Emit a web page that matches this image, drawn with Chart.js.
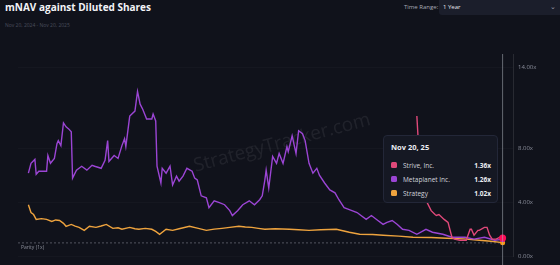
<!DOCTYPE html>
<html>
<head>
<meta charset="utf-8">
<script src="https://cdn.jsdelivr.net/npm/chart.js@4.4.1/dist/chart.umd.min.js"></script>
<style>
  html, body { margin: 0; padding: 0; background: #10121b; width: 560px; height: 265px; overflow: hidden; font-family: "Open Sans", "Noto Sans", sans-serif; }
  #title { position: absolute; left: 5px; top: 0px; font-size: 10px; font-weight: 700; color: #f2f3f7; }
  #sub { position: absolute; left: 5px; top: 22px; font-size: 5px; color: #4a4e5c; }
  #rangeLbl { position: absolute; left: 404px; top: 3px; font-size: 6px; color: #a8abb6; }
  #range { position: absolute; left: 439px; top: 0px; width: 121px; height: 15px; background: #1b1e2b; border-radius: 0 0 0 3px; box-sizing: border-box; padding-left: 4px; font-size: 6px; line-height: 15px; color: #e4e5ea; }
  #range span { position: absolute; right: 4px; top: -1px; color: #9a9daa; font-size: 7px; }
  #wrap { position: absolute; left: 0; top: 40px; width: 560px; height: 225px; }
  #tip { position: absolute; left: 383px; top: 95px; width: 115px; height: 68px; box-sizing: border-box; background: #151823; border: 1px solid #232738; border-radius: 4px; padding: 6px 6px 0 7px; opacity: 0; }
  #tip .tt { font-weight: 700; font-size: 7.5px; color: #eceef3; height: 11px; line-height: 10px; margin-bottom: 5px; }
  #tip .row { display: flex; align-items: center; height: 14px; font-size: 6.5px; color: #d2d4dc; }
  #tip .row i { width: 6px; height: 6px; border-radius: 1.5px; margin-right: 6px; }
  #tip .row b { margin-left: auto; margin-right: 0px; font-weight: 700; color: #eceef3; }
</style>
</head>
<body>
<div id="title">mNAV against Diluted Shares</div>
<div id="sub">Nov 20, 2024 - Nov 20, 2025</div>
<div id="rangeLbl">Time Range:</div>
<div id="range">1 Year <span>&#8964;</span></div>
<div id="wrap"><canvas id="mChart" width="560" height="225"></canvas><div id="tip"></div></div>
<script>
// days since Nov 20, 2024 and mNAV values
const strategyDays = [0,2,4,6,10,14,18,21,24,27,29,33,36,39,43,47,52,56,60,65,69,72,78,82,85,90,95,98,101,106,111,116,124,130,137,143,149,155,162,167,172,177,182,190,201,208,216,225,237,242,247,255,265,273,285,296,310,322,335,347,356,365];
const strategyVals = [3.83,3.25,3.10,2.74,2.80,2.74,2.59,2.70,2.66,2.45,2.23,2.37,2.25,2.15,1.93,2.23,2.15,2.25,2.37,2.08,2.12,2.01,2.15,2.05,2.01,2.08,2.01,1.85,1.64,2.01,1.93,2.05,2.23,2.10,1.93,2.02,2.08,2.15,2.23,2.18,2.15,2.08,2.01,2.05,2.01,1.98,1.93,1.98,2.01,1.90,1.79,1.64,1.62,1.57,1.50,1.42,1.40,1.35,1.30,1.20,1.12,1.02];

const metaDays = [0,2,5,6,8,14,15,17,20,22,23,25,27,29,31,33,34,37,41,45,49,51,56,59,61,62,66,69,72,74,75,78,82,84,86,88,91,95,96,98,99,102,103,106,109,111,114,116,119,122,126,128,130,133,137,139,143,147,151,155,157,161,165,170,174,178,180,182,183,185,188,191,193,196,199,200,203,206,208,211,213,216,219,222,224,228,232,236,239,243,247,253,256,260,264,269,273,276,280,284,288,293,299,306,311,319,326,336,343,351,359,365];
const metaVals = [6.17,6.90,7.19,6.09,6.31,6.31,7.48,6.90,7.26,8.36,8.58,8.21,9.89,9.60,9.45,9.23,5.80,6.39,6.68,6.39,6.75,6.68,6.53,7.12,8.58,7.04,7.48,7.26,8.21,8.72,8.14,10.40,10.77,12.23,11.28,10.91,10.18,10.18,10.55,10.04,6.68,5.44,6.53,6.17,6.68,5.29,5.95,5.58,5.95,6.53,6.31,5.80,5.66,4.49,4.34,3.61,4.12,3.98,3.83,3.39,3.03,3.39,3.83,4.12,3.83,4.20,4.49,5.66,6.39,5.07,7.41,6.90,7.63,6.90,8.14,7.77,8.94,7.63,9.31,9.09,8.58,6.90,6.17,6.53,6.02,5.44,4.93,4.71,4.20,3.61,3.47,3.25,3.03,2.74,3.03,2.66,2.37,2.52,2.66,2.37,2.01,1.93,1.64,2.01,1.79,1.64,1.42,1.42,1.28,1.42,1.20,1.26];

const striveDays = [299,300,301,303,306,307,310,313,314,316,320,323,324,326,328,332,337,340,341,343,346,347,351,353,355,357,360,363,365];
const striveVals = [10.40,8.70,7.30,5.80,4.70,3.98,3.39,3.10,3.03,3.10,2.74,2.52,2.15,1.42,1.28,1.20,1.20,2.01,2.01,1.57,1.93,1.93,2.15,2.15,1.57,1.28,1.28,1.42,1.36];

const yTicks = [0, 4, 8, 14];
const months = ['Jan','Feb','Mar','Apr','May','Jun','Jul','Aug','Sep','Oct','Nov','Dec'];

function pts(days, vals) {
  return days.map((d, i) => ({ x: d, y: vals[i] }));
}
function dayLabel(d) {
  const dt = new Date(2024, 10, 20 + d);
  return months[dt.getMonth()] + ' ' + dt.getDate() + ', ' + String(dt.getFullYear()).slice(2);
}

function externalTip(context) {
  const tip = document.getElementById('tip');
  const m = context.tooltip;
  if (m.opacity === 0) { tip.style.opacity = 0; return; }
  let html = '<div class="tt">' + m.title[0] + '</div>';
  m.dataPoints.forEach(dp => {
    html += '<div class="row"><i style="background:' + dp.dataset.borderColor + '"></i><span>' +
      dp.dataset.label + '</span><b>' + dp.parsed.y.toFixed(2) + 'x</b></div>';
  });
  tip.innerHTML = html;
  tip.style.opacity = 1;
}

const extras = {
  id: 'extras',
  beforeDatasetsDraw(chart) {
    const ctx = chart.ctx;
    const a = chart.chartArea;
    // watermark
    ctx.save();
    ctx.translate(282, 103);
    ctx.rotate(-15 * Math.PI / 180);
    ctx.font = '19px "Open Sans", sans-serif';
    ctx.fillStyle = 'rgba(255,255,255,0.07)';
    ctx.textAlign = 'center';
    ctx.textBaseline = 'middle';
    ctx.fillText('StrategyTracker.com', 0, 0);
    ctx.restore();
    // parity line
    const y1 = chart.scales.y.getPixelForValue(1);
    ctx.save();
    ctx.strokeStyle = 'rgba(200,204,215,0.45)';
    ctx.lineWidth = 0.8;
    ctx.setLineDash([2, 2]);
    ctx.beginPath();
    ctx.moveTo(a.left, y1);
    ctx.lineTo(a.right - 10, y1);
    ctx.stroke();
    ctx.setLineDash([]);
    ctx.fillStyle = '#8d909c';
    ctx.font = '5px "Open Sans", sans-serif';
    ctx.textBaseline = 'top';
    ctx.fillText('Parity (1x)', a.left + 3, y1 + 2);
    ctx.restore();
  },
  afterDatasetsDraw(chart) {
    const act = chart.tooltip.getActiveElements();
    if (!act.length) return;
    const x = act[0].element.x;
    const ctx = chart.ctx;
    ctx.save();
    ctx.strokeStyle = 'rgba(170,174,186,0.55)';
    ctx.lineWidth = 1;
    ctx.beginPath();
    ctx.moveTo(x, chart.chartArea.top);
    ctx.lineTo(x, chart.height);
    ctx.stroke();
    ctx.restore();
  }
};

const ct = document.getElementById('mChart').getContext('2d');

const mChart = new Chart(ct, {
  type: 'line',
  data: {
    datasets: [{
      label: 'Strive, Inc.',
      data: pts(striveDays, striveVals),
      borderColor: '#e0497a',
      backgroundColor: '#e0497a',
      borderWidth: 1.4,
      pointRadius: 0,
      pointHoverRadius: 3.5,
      pointHoverBorderWidth: 0
    }, {
      label: 'Metaplanet Inc.',
      data: pts(metaDays, metaVals),
      borderColor: '#9b45d4',
      backgroundColor: '#9b45d4',
      borderWidth: 1.4,
      pointRadius: 0,
      pointHoverRadius: 2.5,
      pointHoverBorderWidth: 0
    }, {
      label: 'Strategy',
      data: pts(strategyDays, strategyVals),
      borderColor: '#eea33e',
      backgroundColor: '#eea33e',
      borderWidth: 1.4,
      pointRadius: 0,
      pointHoverRadius: 2.5,
      pointHoverBorderWidth: 0
    }]
  },
  options: {
    responsive: false,
    animation: false,
    events: [],
    layout: { padding: { left: 18, top: 14, bottom: 5.5, right: 0 } },
    scales: {
      x: { type: 'linear', min: -8, max: 373, display: false },
      y: {
        position: 'right',
        min: 0,
        max: 15,
        afterBuildTicks: s => { s.ticks = yTicks.map(v => ({ value: v })); },
        afterFit: s => { s.width = 47; },
        grid: { color: 'rgba(255,255,255,0.025)', drawTicks: false },
        border: { display: true, color: 'rgba(255,255,255,0.1)' },
        ticks: {
          padding: 5,
          color: '#8a8e9b',
          font: { family: '"Open Sans", sans-serif', size: 6 },
          callback: v => v.toFixed(2) + 'x'
        }
      }
    },
    plugins: {
      legend: { display: false },
      tooltip: {
        enabled: false,
        mode: 'nearest',
        external: externalTip,
        callbacks: { title: items => dayLabel(items[0].parsed.x) }
      }
    }
  },
  plugins: [extras]
});

const active = mChart.data.datasets.map((ds, i) => ({ datasetIndex: i, index: ds.data.length - 1 }));
mChart.setActiveElements(active);
mChart.tooltip.setActiveElements(active, { x: 0, y: 0 });
mChart.update();
</script>
</body>
</html>
